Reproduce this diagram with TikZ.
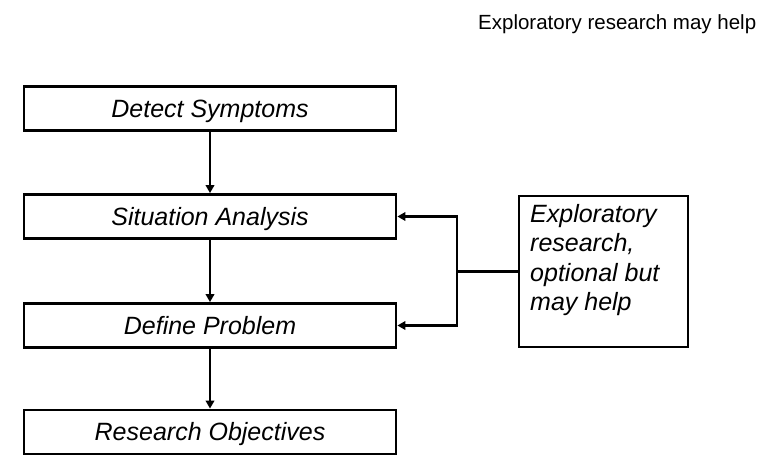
\documentclass[tikz,border=0pt]{standalone}
\usepackage{fontspec}
\setmainfont{Liberation Sans}
\usetikzlibrary{arrows.meta}
\begin{document}
\begin{tikzpicture}[x=1pt,y=-1pt,
  stepbox/.style={draw=black,line width=2.8pt,minimum width=372pt,minimum height=44pt,inner sep=0pt,
    text height=17.5pt,text depth=0pt,
    font=\fontsize{25}{29.5}\selectfont\itshape},
  arr/.style={line width=2.3pt,-{Triangle[length=8pt,width=8.5pt]}},
  link/.style={line width=2.3pt}]
\useasboundingbox (0,0) rectangle (779,455);
\node[anchor=base west,inner sep=0pt,font=\fontsize{20.5}{24}\selectfont] (head) at (478,29) {Exploratory research may help};
\node[stepbox] (det) at (210,108.5) {Detect Symptoms};
\node[stepbox] (sit) at (210,216.5) {Situation Analysis};
\node[stepbox] (def) at (210,325.5) {Define Problem};
\node[stepbox] (obj) at (210,432) {Research Objectives};
\node[draw=black,line width=2.8pt,minimum width=169pt,minimum height=151pt,inner sep=0pt] (expl) at (603.5,271.5) {};
\node[anchor=north west,inner sep=0pt,align=left,font=\fontsize{25}{29.5}\selectfont\itshape] (expltext) at (530,204)
  {Exploratory\\research,\\optional but\\may help};
\draw[arr] (det) -- (sit);
\draw[arr] (sit) -- (def);
\draw[arr] (def) -- (obj);
\coordinate (j) at (457,271.5);
\draw[link] (expl.west) -- (j);
\draw[arr] (j) |- (sit.east);
\draw[arr] (j) |- (def.east);
\end{tikzpicture}
\end{document}
